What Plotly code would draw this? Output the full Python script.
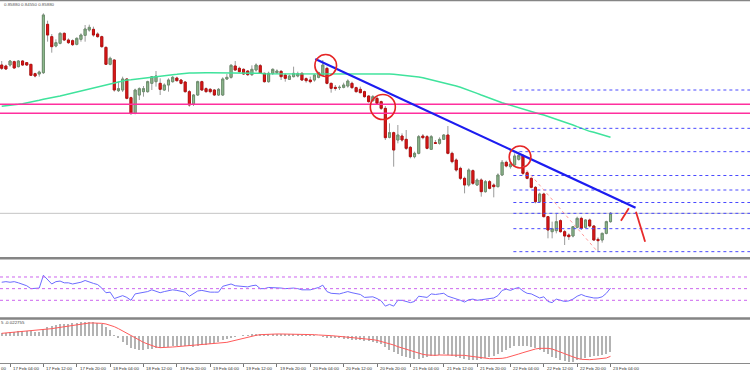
import plotly.graph_objects as go

# ---------------- data (hourly candles, index 0..146) ----------------
open_ = [0.85610, 0.85604, 0.85610, 0.85630, 0.85600, 0.85634, 0.85624, 0.85614, 0.85558, 0.85556,
         0.85564, 0.85854, 0.85780, 0.85724, 0.85740, 0.85800, 0.85760, 0.85756, 0.85734, 0.85764,
         0.85788, 0.85820, 0.85824, 0.85796, 0.85780, 0.85716, 0.85614, 0.85640, 0.85456, 0.85460,
         0.85526, 0.85414, 0.85320, 0.85430, 0.85450, 0.85450, 0.85500, 0.85510, 0.85500, 0.85460,
         0.85490, 0.85510, 0.85532, 0.85520, 0.85508, 0.85450, 0.85376, 0.85430, 0.85510, 0.85468,
         0.85464, 0.85460, 0.85430, 0.85430, 0.85526, 0.85536, 0.85604, 0.85590, 0.85584, 0.85574,
         0.85552, 0.85580, 0.85606, 0.85560, 0.85510, 0.85560, 0.85564, 0.85572, 0.85550, 0.85524,
         0.85540, 0.85544, 0.85560, 0.85528, 0.85520, 0.85520, 0.85536, 0.85550, 0.85590, 0.85500,
         0.85476, 0.85474, 0.85476, 0.85484, 0.85500, 0.85474, 0.85464, 0.85450, 0.85424, 0.85396,
         0.85410, 0.85390, 0.85350, 0.85176, 0.85204, 0.85160, 0.85184, 0.85164, 0.85116, 0.85060,
         0.85080, 0.85184, 0.85180, 0.85104, 0.85144, 0.85140, 0.85164, 0.85190, 0.85080, 0.85040,
         0.84990, 0.84930, 0.84890, 0.84976, 0.84890, 0.84920, 0.84850, 0.84910, 0.84890, 0.84880,
         0.84950, 0.85026, 0.85000, 0.85010, 0.85044, 0.85064, 0.84964, 0.84930, 0.84876, 0.84790,
         0.84836, 0.84700, 0.84610, 0.84616, 0.84676, 0.84610, 0.84590, 0.84584, 0.84636, 0.84690,
         0.84636, 0.84680, 0.84644, 0.84564, 0.84560, 0.84600, 0.84670]

high = [0.85634, 0.85612, 0.85640, 0.85636, 0.85640, 0.85640, 0.85628, 0.85616, 0.85564, 0.85576,
        0.85920, 0.85876, 0.85796, 0.85764, 0.85806, 0.85806, 0.85770, 0.85764, 0.85776, 0.85800,
        0.85850, 0.85852, 0.85840, 0.85806, 0.85786, 0.85720, 0.85660, 0.85644, 0.85510, 0.85540,
        0.85532, 0.85420, 0.85468, 0.85476, 0.85484, 0.85516, 0.85544, 0.85574, 0.85530, 0.85500,
        0.85530, 0.85544, 0.85540, 0.85526, 0.85514, 0.85460, 0.85436, 0.85516, 0.85516, 0.85476,
        0.85472, 0.85466, 0.85472, 0.85536, 0.85556, 0.85616, 0.85634, 0.85600, 0.85590, 0.85580,
        0.85608, 0.85620, 0.85616, 0.85564, 0.85570, 0.85590, 0.85584, 0.85580, 0.85560, 0.85552,
        0.85600, 0.85570, 0.85566, 0.85536, 0.85540, 0.85556, 0.85570, 0.85640, 0.85600, 0.85504,
        0.85490, 0.85488, 0.85504, 0.85524, 0.85510, 0.85480, 0.85480, 0.85456, 0.85430, 0.85430,
        0.85424, 0.85396, 0.85364, 0.85260, 0.85210, 0.85250, 0.85200, 0.85220, 0.85124, 0.85090,
        0.85190, 0.85196, 0.85190, 0.85190, 0.85160, 0.85176, 0.85196, 0.85244, 0.85090, 0.85050,
        0.85000, 0.84940, 0.84990, 0.84984, 0.84930, 0.84930, 0.84920, 0.84920, 0.84900, 0.84960,
        0.85040, 0.85036, 0.85024, 0.85080, 0.85090, 0.85076, 0.84976, 0.84936, 0.84884, 0.84844,
        0.84844, 0.84704, 0.84670, 0.84716, 0.84684, 0.84620, 0.84600, 0.84644, 0.84700, 0.84700,
        0.84684, 0.84688, 0.84650, 0.84576, 0.84604, 0.84676, 0.84728]

low = [0.85580, 0.85580, 0.85600, 0.85588, 0.85596, 0.85604, 0.85604, 0.85544, 0.85536, 0.85540,
       0.85556, 0.85750, 0.85684, 0.85716, 0.85734, 0.85754, 0.85736, 0.85724, 0.85728, 0.85750,
       0.85750, 0.85810, 0.85780, 0.85774, 0.85714, 0.85610, 0.85608, 0.85450, 0.85448, 0.85448,
       0.85404, 0.85310, 0.85314, 0.85400, 0.85420, 0.85444, 0.85460, 0.85480, 0.85430, 0.85454,
       0.85450, 0.85504, 0.85510, 0.85494, 0.85444, 0.85360, 0.85364, 0.85424, 0.85454, 0.85444,
       0.85440, 0.85424, 0.85424, 0.85424, 0.85520, 0.85528, 0.85574, 0.85564, 0.85550, 0.85544,
       0.85544, 0.85570, 0.85556, 0.85504, 0.85504, 0.85550, 0.85556, 0.85520, 0.85510, 0.85520,
       0.85536, 0.85536, 0.85516, 0.85504, 0.85500, 0.85510, 0.85530, 0.85544, 0.85494, 0.85444,
       0.85456, 0.85460, 0.85470, 0.85474, 0.85468, 0.85444, 0.85440, 0.85414, 0.85384, 0.85390,
       0.85376, 0.85340, 0.85160, 0.85170, 0.85000, 0.85140, 0.85150, 0.85100, 0.85050, 0.85050,
       0.85074, 0.85164, 0.85104, 0.85100, 0.85136, 0.85132, 0.85160, 0.85074, 0.85020, 0.84970,
       0.84920, 0.84840, 0.84880, 0.84890, 0.84884, 0.84820, 0.84844, 0.84864, 0.84816, 0.84876,
       0.84944, 0.84996, 0.84988, 0.85004, 0.85036, 0.84950, 0.84924, 0.84870, 0.84780, 0.84784,
       0.84696, 0.84570, 0.84570, 0.84600, 0.84604, 0.84530, 0.84560, 0.84576, 0.84630, 0.84620,
       0.84630, 0.84636, 0.84556, 0.84490, 0.84544, 0.84594, 0.84664]

close = [0.85590, 0.85586, 0.85634, 0.85592, 0.85634, 0.85610, 0.85610, 0.85548, 0.85544, 0.85568,
         0.85910, 0.85790, 0.85720, 0.85744, 0.85800, 0.85760, 0.85744, 0.85732, 0.85770, 0.85790,
         0.85826, 0.85836, 0.85790, 0.85780, 0.85720, 0.85614, 0.85650, 0.85460, 0.85468, 0.85526,
         0.85410, 0.85320, 0.85460, 0.85468, 0.85468, 0.85510, 0.85540, 0.85544, 0.85464, 0.85490,
         0.85520, 0.85536, 0.85516, 0.85500, 0.85450, 0.85370, 0.85430, 0.85510, 0.85460, 0.85450,
         0.85450, 0.85430, 0.85464, 0.85526, 0.85536, 0.85608, 0.85580, 0.85570, 0.85556, 0.85552,
         0.85584, 0.85610, 0.85560, 0.85510, 0.85560, 0.85584, 0.85574, 0.85540, 0.85530, 0.85544,
         0.85560, 0.85558, 0.85520, 0.85516, 0.85510, 0.85550, 0.85564, 0.85610, 0.85500, 0.85470,
         0.85470, 0.85476, 0.85490, 0.85514, 0.85474, 0.85450, 0.85444, 0.85420, 0.85390, 0.85420,
         0.85380, 0.85350, 0.85174, 0.85204, 0.85100, 0.85190, 0.85160, 0.85110, 0.85060, 0.85080,
         0.85180, 0.85174, 0.85110, 0.85180, 0.85140, 0.85164, 0.85190, 0.85080, 0.85030, 0.84980,
         0.84930, 0.84890, 0.84980, 0.84900, 0.84920, 0.84850, 0.84910, 0.84870, 0.84880, 0.84950,
         0.85026, 0.85004, 0.85016, 0.85064, 0.85068, 0.84960, 0.84930, 0.84876, 0.84790, 0.84836,
         0.84700, 0.84620, 0.84628, 0.84670, 0.84610, 0.84584, 0.84580, 0.84640, 0.84690, 0.84630,
         0.84680, 0.84644, 0.84560, 0.84556, 0.84600, 0.84670, 0.84720]

moving_avg = [0.85362, 0.85364, 0.85368, 0.85370, 0.85374, 0.85378, 0.85382, 0.85388, 0.85392, 0.85398,
              0.85404, 0.85408, 0.85414, 0.85418, 0.85424, 0.85430, 0.85436, 0.85444, 0.85450, 0.85458,
              0.85464, 0.85470, 0.85476, 0.85482, 0.85486, 0.85492, 0.85498, 0.85504, 0.85510, 0.85516,
              0.85520, 0.85522, 0.85526, 0.85528, 0.85532, 0.85534, 0.85536, 0.85540, 0.85542, 0.85546,
              0.85548, 0.85552, 0.85554, 0.85558, 0.85560, 0.85562, 0.85562, 0.85564, 0.85564, 0.85564,
              0.85564, 0.85564, 0.85564, 0.85564, 0.85562, 0.85562, 0.85562, 0.85562, 0.85560, 0.85560,
              0.85560, 0.85560, 0.85560, 0.85558, 0.85558, 0.85558, 0.85558, 0.85556, 0.85556, 0.85556,
              0.85556, 0.85556, 0.85556, 0.85558, 0.85558, 0.85558, 0.85558, 0.85558, 0.85560, 0.85560,
              0.85560, 0.85560, 0.85560, 0.85560, 0.85560, 0.85560, 0.85560, 0.85560, 0.85560, 0.85560,
              0.85560, 0.85560, 0.85558, 0.85556, 0.85554, 0.85552, 0.85550, 0.85548, 0.85544, 0.85542,
              0.85538, 0.85534, 0.85528, 0.85524, 0.85518, 0.85512, 0.85506, 0.85498, 0.85492, 0.85484,
              0.85476, 0.85468, 0.85458, 0.85448, 0.85440, 0.85430, 0.85420, 0.85412, 0.85402, 0.85394,
              0.85384, 0.85376, 0.85368, 0.85360, 0.85352, 0.85344, 0.85338, 0.85330, 0.85324, 0.85316,
              0.85310, 0.85302, 0.85294, 0.85286, 0.85278, 0.85270, 0.85260, 0.85250, 0.85240, 0.85230,
              0.85220, 0.85212, 0.85206, 0.85198, 0.85192, 0.85184, 0.85176]

rsi = [61, 62, 61, 62, 60, 58, 55, 50, 50, 51,
       73, 65, 58, 62, 63, 60, 60, 58, 59, 61,
       64, 61, 59, 57, 51, 43, 44, 33, 35, 38,
       35, 30, 41, 42, 43, 45, 48, 46, 43, 45,
       47, 48, 47, 46, 44, 37, 41, 46, 47, 45,
       44, 44, 44, 54, 56, 58, 55, 54, 53, 53,
       55, 56, 50, 50, 52, 52, 52, 51, 50, 51,
       51, 50, 48, 48, 48, 50, 52, 56, 45, 42,
       41, 41, 43, 45, 43, 41, 40, 35, 36, 36,
       33, 29, 20, 23, 20, 30, 30, 28, 26, 28,
       37, 36, 35, 41, 40, 41, 42, 37, 35, 33,
       30, 27, 31, 32, 30, 31, 32, 34, 34, 38,
       47, 49, 47, 50, 52, 46, 42, 41, 37, 34,
       36, 28, 26, 32, 30, 28, 29, 32, 37, 40,
       37, 35, 34, 34, 36, 42, 51]

macd_hist = [0.00008, 0.00010, 0.00012, 0.00013, 0.00014, 0.00015, 0.00015, 0.00015, 0.00013, 0.00012,
             0.00021, 0.00027, 0.00030, 0.00033, 0.00035, 0.00036, 0.00037, 0.00039, 0.00040, 0.00041,
             0.00042, 0.00042, 0.00042, 0.00040, 0.00037, 0.00028, 0.00017, 0.00003, -0.00007, -0.00017,
             -0.00027, -0.00035, -0.00039, -0.00041, -0.00042, -0.00040, -0.00038, -0.00037, -0.00035, -0.00033,
             -0.00032, -0.00030, -0.00029, -0.00029, -0.00029, -0.00031, -0.00032, -0.00030, -0.00028, -0.00026,
             -0.00024, -0.00021, -0.00018, -0.00013, -0.00009, -0.00005, -0.00003, 0.00000, 0.00002, 0.00003,
             0.00005, 0.00006, 0.00007, 0.00007, 0.00007, 0.00007, 0.00007, 0.00007, 0.00006, 0.00005,
             0.00005, 0.00004, 0.00003, 0.00003, 0.00002, 0.00001, 0.00000, -0.00001, -0.00005, -0.00006,
             -0.00007, -0.00007, -0.00008, -0.00009, -0.00011, -0.00012, -0.00012, -0.00014, -0.00016, -0.00018,
             -0.00020, -0.00025, -0.00032, -0.00041, -0.00049, -0.00055, -0.00059, -0.00063, -0.00067, -0.00069,
             -0.00069, -0.00067, -0.00064, -0.00061, -0.00059, -0.00057, -0.00055, -0.00056, -0.00059, -0.00062,
             -0.00065, -0.00069, -0.00071, -0.00072, -0.00071, -0.00069, -0.00067, -0.00063, -0.00059, -0.00053,
             -0.00047, -0.00041, -0.00035, -0.00031, -0.00029, -0.00029, -0.00030, -0.00033, -0.00037, -0.00041,
             -0.00048, -0.00055, -0.00062, -0.00067, -0.00072, -0.00076, -0.00078, -0.00077, -0.00073, -0.00068,
             -0.00065, -0.00063, -0.00061, -0.00059, -0.00057, -0.00055, -0.00047]

macd_signal = [0.00008, 0.00009, 0.00010, 0.00011, 0.00012, 0.00014, 0.00015, 0.00016, 0.00017, 0.00018,
               0.00019, 0.00020, 0.00022, 0.00024, 0.00026, 0.00028, 0.00030, 0.00033, 0.00035, 0.00037,
               0.00038, 0.00039, 0.00039, 0.00039, 0.00038, 0.00036, 0.00033, 0.00028, 0.00022, 0.00015,
               0.00008, 0.00001, -0.00006, -0.00013, -0.00019, -0.00024, -0.00029, -0.00033, -0.00035, -0.00035,
               -0.00034, -0.00033, -0.00032, -0.00031, -0.00030, -0.00029, -0.00028, -0.00027, -0.00026, -0.00025,
               -0.00025, -0.00024, -0.00023, -0.00021, -0.00019, -0.00016, -0.00013, -0.00009, -0.00005, -0.00002,
               0.00000, 0.00002, 0.00004, 0.00005, 0.00006, 0.00006, 0.00006, 0.00006, 0.00006, 0.00006,
               0.00005, 0.00005, 0.00005, 0.00005, 0.00004, 0.00004, 0.00003, 0.00003, 0.00002, 0.00001,
               0.00000, -0.00001, -0.00002, -0.00003, -0.00004, -0.00005, -0.00006, -0.00007, -0.00009, -0.00011,
               -0.00013, -0.00016, -0.00019, -0.00023, -0.00027, -0.00032, -0.00036, -0.00040, -0.00045, -0.00049,
               -0.00052, -0.00055, -0.00057, -0.00058, -0.00058, -0.00057, -0.00057, -0.00056, -0.00056, -0.00056,
               -0.00057, -0.00058, -0.00060, -0.00062, -0.00064, -0.00066, -0.00067, -0.00068, -0.00068, -0.00068,
               -0.00067, -0.00065, -0.00062, -0.00058, -0.00054, -0.00050, -0.00046, -0.00042, -0.00039, -0.00037,
               -0.00036, -0.00037, -0.00039, -0.00043, -0.00048, -0.00053, -0.00058, -0.00063, -0.00067, -0.00070,
               -0.00071, -0.00071, -0.00070, -0.00069, -0.00068, -0.00066, -0.00061]

time_labels = ["17 Feb 04:00", "17 Feb 12:00", "17 Feb 20:00", "18 Feb 04:00", "18 Feb 12:00",
               "18 Feb 20:00", "19 Feb 04:00", "19 Feb 12:00", "19 Feb 20:00", "20 Feb 04:00",
               "20 Feb 12:00", "20 Feb 20:00", "21 Feb 04:00", "21 Feb 12:00", "21 Feb 20:00",
               "22 Feb 04:00", "22 Feb 12:00", "22 Feb 20:00", "23 Feb 04:00"]
label_bars = [2, 10, 18, 26, 34, 42, 50, 58, 66, 74, 82, 90, 98, 106, 114, 122, 130, 138, 146]
edge_label_tail = "00"

resistance_levels = [0.85374, 0.85320]
fib_levels = [0.85460, 0.85230, 0.85090, 0.84947, 0.84860, 0.84785, 0.84720, 0.84628, 0.84490]
fib_start_bar = 122.7
trend_start = (75.2, 0.85646)
trend_end = (152.0, 0.84754)
touch_circles = [(77.7, 0.85607, 2.6, 0.00066), (91.4, 0.85358, 3.0, 0.00075), (124.3, 0.85058, 2.6, 0.00066)]
swing_diag = [(125.0, 0.85004), (142.9, 0.84490)]
arrow_up = [(148.5, 0.84676), (150.4, 0.84750)]
arrow_down = [(152.1, 0.84730), (154.3, 0.84550)]
header_text = "0.85880 0.84550 0.85880"
macd_text = "5 -0.022755"

bars = list(range(len(close)))
body_hi = [max(o, c) for o, c in zip(open_, close)]
body_lo = [min(o, c) for o, c in zip(open_, close)]

FONT = "Liberation Sans"
fig = go.Figure()

# wicks
fig.add_trace(go.Candlestick(
    x=bars, open=open_, high=high, low=low, close=close,
    increasing=dict(line=dict(color="#9a9a9a", width=1), fillcolor="#8fbc8f"),
    decreasing=dict(line=dict(color="#9a9a9a", width=1), fillcolor="#e01818"),
    whiskerwidth=0, xaxis="x", yaxis="y", hoverinfo="skip"))
# bodies
fig.add_trace(go.Candlestick(
    x=bars, open=open_, high=body_hi, low=body_lo, close=close,
    increasing=dict(line=dict(color="#6f8f6f", width=1), fillcolor="#8fbc8f"),
    decreasing=dict(line=dict(color="#b81010", width=1), fillcolor="#e01818"),
    whiskerwidth=0, xaxis="x", yaxis="y", hoverinfo="skip"))
# moving average
fig.add_trace(go.Scatter(x=bars, y=moving_avg, mode="lines",
                         line=dict(color="#3fe39c", width=1.5), xaxis="x", yaxis="y"))
# RSI
fig.add_trace(go.Scatter(x=bars, y=rsi, mode="lines",
                         line=dict(color="#6b6bff", width=1), xaxis="x", yaxis="y2"))
# MACD
fig.add_trace(go.Bar(x=bars, y=macd_hist, width=0.3, marker=dict(color="#b3b3b3", line=dict(width=0)),
                     xaxis="x", yaxis="y3"))
fig.add_trace(go.Scatter(x=bars, y=macd_signal, mode="lines",
                         line=dict(color="#ff5a5a", width=1), xaxis="x", yaxis="y3"))

shapes = []
# bid line
shapes.append(dict(type="line", xref="paper", x0=0, x1=1, yref="y", y0=close[-1], y1=close[-1],
                   line=dict(color="#c4c4c4", width=1), layer="below"))
for lv in resistance_levels:
    shapes.append(dict(type="line", xref="paper", x0=0, x1=1, yref="y", y0=lv, y1=lv,
                       line=dict(color="#ff2f9e", width=1.5)))
for lv in fib_levels:
    shapes.append(dict(type="line", xref="x", x0=fib_start_bar, x1=179.5, yref="y", y0=lv, y1=lv,
                       line=dict(color="#4a4aff", width=1, dash="dot")))
shapes.append(dict(type="line", xref="x", yref="y", x0=swing_diag[0][0], y0=swing_diag[0][1],
                   x1=swing_diag[1][0], y1=swing_diag[1][1], line=dict(color="#ff9a9a", width=1, dash="dot")))
shapes.append(dict(type="line", xref="x", yref="y", x0=trend_start[0], y0=trend_start[1],
                   x1=trend_end[0], y1=trend_end[1], line=dict(color="#1c1cf0", width=2.2)))
for cx, cy, rx, ry in touch_circles:
    shapes.append(dict(type="circle", xref="x", yref="y", x0=cx - rx, x1=cx + rx, y0=cy - ry, y1=cy + ry,
                       line=dict(color="#e52525", width=1.6)))
for seg in (arrow_up, arrow_down):
    shapes.append(dict(type="line", xref="x", yref="y", x0=seg[0][0], y0=seg[0][1], x1=seg[1][0], y1=seg[1][1],
                       line=dict(color="#e82a2a", width=1.8)))
# RSI levels
for lv in (70, 50, 30):
    shapes.append(dict(type="line", xref="paper", x0=0, x1=1, yref="y2", y0=lv, y1=lv,
                       line=dict(color="#cc66ee", width=1, dash="dot")))
# panel separators / borders
for py, w in ((0.9990, 1.5), (0.3112, 2.5), (0.1507, 2.5)):
    shapes.append(dict(type="line", xref="paper", yref="paper", x0=0, x1=1, y0=py, y1=py,
                       line=dict(color="#858585", width=w)))

annotations = []
for b, t in zip(label_bars, time_labels):
    annotations.append(dict(x=b + 0.2, y=0.032, xref="x", yref="paper", text=t, showarrow=False,
                            xanchor="left", yanchor="top", yshift=-1,
                            font=dict(family=FONT, size=4.4, color="#333333")))
annotations.append(dict(x=0.0, y=0.032, xref="paper", yref="paper", text=edge_label_tail, showarrow=False,
                        xanchor="left", yanchor="top", yshift=-1, xshift=-1,
                        font=dict(family=FONT, size=4.4, color="#333333")))
annotations.append(dict(x=0.002, y=0.9867, xref="paper", yref="paper", text=header_text, showarrow=False,
                        xanchor="left", yanchor="middle", font=dict(family=FONT, size=4.4, color="#555555")))
annotations.append(dict(x=-0.001, y=0.1395, xref="paper", yref="paper", text=macd_text, showarrow=False,
                        xanchor="left", yanchor="middle", font=dict(family=FONT, size=4.4, color="#444444")))

fig.update_layout(
    width=750, height=375, margin=dict(l=0, r=0, t=0, b=0),
    paper_bgcolor="white", plot_bgcolor="white", showlegend=False,
    shapes=shapes, annotations=annotations, bargap=0,
    xaxis=dict(domain=[0, 1], range=[-0.41, 179.45], anchor="y3", rangeslider=dict(visible=False),
               showgrid=False, zeroline=False, showticklabels=False, tickmode="array",
               tickvals=label_bars, ticks="outside", ticklen=3, tickcolor="#777777",
               showline=True, linecolor="#8a8a8a", linewidth=1),
    yaxis=dict(domain=[0.31467, 1.0], range=[0.84458, 0.86000], showgrid=False, zeroline=False,
               showticklabels=False, anchor="x"),
    yaxis2=dict(domain=[0.15253, 0.308], range=[0, 100], showgrid=False, zeroline=False,
                showticklabels=False, anchor="x"),
    yaxis3=dict(domain=[0.032, 0.14667], range=[-0.00081, 0.00048], showgrid=False, zeroline=False,
                showticklabels=False, anchor="x"),
)

fig.write_html("out.html", config={"displayModeBar": False},
               post_script="document.body.style.margin='0';document.body.style.overflow='hidden';")
